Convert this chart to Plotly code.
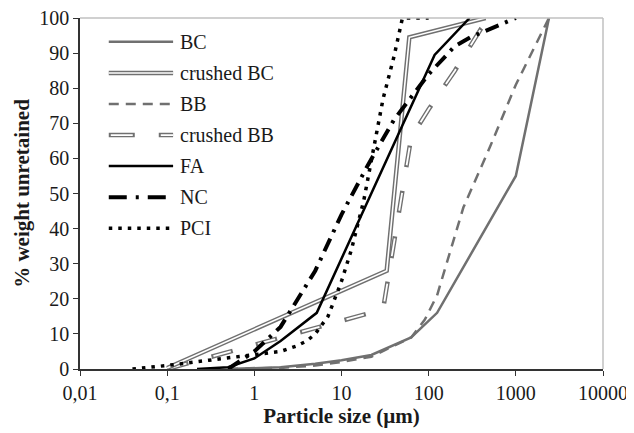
import plotly.graph_objects as go

# particle size (um) vs % weight unretained
bc_size = [0.5, 2, 5, 10, 22, 63, 125, 1000, 2400]
bc_pct = [0, 0.5, 1.5, 2.5, 4, 9, 16, 55, 100]

cbc_size = [0.1, 33, 60, 450]
cbc_pct = [0.3, 28, 94.5, 100]

bb_size = [0.5, 2, 5, 10, 22, 63, 90, 125, 250, 500, 1000, 2400]
bb_pct = [0, 0.3, 1, 2, 3.5, 9, 14, 21, 46, 63, 81, 100]

cbb_size = [0.1, 30, 63, 100, 200, 400, 500]
cbb_pct = [0, 17, 66, 74, 85, 97, 100]

fa_size = [0.22, 0.5, 1, 2, 5.2, 117, 295]
fa_pct = [0, 0.5, 3, 8, 16, 89.5, 100]

nc_size = [0.5, 1, 2, 5, 10, 20, 40, 100, 200, 300, 1000]
nc_pct = [0, 5, 12, 28, 44, 58, 71, 84, 92, 94.5, 100]

pci_size = [0.04, 0.1, 0.3, 1, 2, 3, 4, 5, 7, 10, 13, 18, 30, 40, 50, 100]
pci_pct = [0, 1, 2.5, 4, 5, 6.5, 8, 10, 15, 25, 34, 48, 77, 89, 100, 100]

legend_names = ["BC", "crushed BC", "BB", "crushed BB", "FA", "NC", "PCI"]

GREY = "#707070"
FONT = "Liberation Serif"

fig = go.Figure()

def add(x, y, color, width, dash="solid"):
    fig.add_trace(go.Scatter(x=x, y=y, mode="lines", showlegend=False, hoverinfo="skip",
                             line=dict(color=color, width=width, dash=dash)))

# grey series
add(bc_size, bc_pct, GREY, 2.5)
add(bb_size, bb_pct, GREY, 2.5, "10px,7px")
add(cbb_size, cbb_pct, GREY, 4.5, "22px,24px")
add(cbb_size, cbb_pct, "white", 1.8, "0px,2px,18px,26px")
add(cbc_size, cbc_pct, GREY, 4.5)
add(cbc_size, cbc_pct, "white", 1.6)
# black series
add(fa_size, fa_pct, "black", 2.5)
add(nc_size, nc_pct, "black", 4, "14px,7px,3px,7px")
add(pci_size, pci_pct, "black", 3.5, "3.5px,6px")

# hand made legend (double lines can't be shown by the built-in legend)
styles = [
    [(GREY, 2.5, "solid")],
    [(GREY, 4.5, "solid"), ("white", 1.6, "solid")],
    [(GREY, 2.5, "10px,7px")],
    [(GREY, 4.5, "26px,24px"), ("white", 1.8, "0px,2px,22px,26px")],
    [("black", 2.5, "solid")],
    [("black", 4, "18px,9px,3px,9px")],
    [("black", 3.5, "3.5px,6px")],
]
shapes = []
annotations = []
y0, step = 0.932, 0.0885
for i, (name, st) in enumerate(zip(legend_names, styles)):
    yy = y0 - i * step
    for c, w, d in st:
        shapes.append(dict(type="line", xref="paper", yref="paper", x0=0.055, x1=0.178,
                           y0=yy, y1=yy, line=dict(color=c, width=w, dash=d)))
    annotations.append(dict(text=name, xref="paper", yref="paper", x=0.188, y=yy,
                            xanchor="left", yanchor="middle", showarrow=False,
                            font=dict(family=FONT, size=20, color="#1a1a1a")))

# light frame on top and right
shapes.append(dict(type="line", xref="paper", yref="paper", x0=0, x1=1, y0=1, y1=1,
                   line=dict(color="#c0c0c0", width=1.5)))
shapes.append(dict(type="line", xref="paper", yref="paper", x0=1, x1=1, y0=0, y1=1,
                   line=dict(color="#c0c0c0", width=1.5)))

# page body has an 8px margin, so the figure is a bit smaller than the window
fig.update_layout(
    width=626, height=425,
    margin=dict(l=72, r=31, t=10, b=64),
    plot_bgcolor="white", paper_bgcolor="white",
    font=dict(family=FONT, size=20, color="#1a1a1a"),
    shapes=shapes, annotations=annotations,
    xaxis=dict(type="log", range=[-2, 4], automargin=False, ticklabeloverflow="allow",
               tickvals=[0.01, 0.1, 1, 10, 100, 1000, 10000],
               ticktext=["0,01", "0,1", "1", "10", "100", "1000", "10000"],
               ticks="outside", ticklen=5, tickcolor="#333", showgrid=False, zeroline=False,
               showline=True, linecolor="#333", linewidth=1.5,
               title=dict(text="<b>Particle size (µm)</b>", font=dict(size=21), standoff=6)),
    yaxis=dict(range=[0, 100], dtick=10, automargin=False, ticklabeloverflow="allow",
               ticks="outside", ticklen=5, tickcolor="#333",
               showgrid=False, zeroline=False, showline=True, linecolor="#333", linewidth=1.5,
               title=dict(text="<b>% weight unretained</b>", font=dict(size=21), standoff=4)),
)

fig.write_html("out.html")
